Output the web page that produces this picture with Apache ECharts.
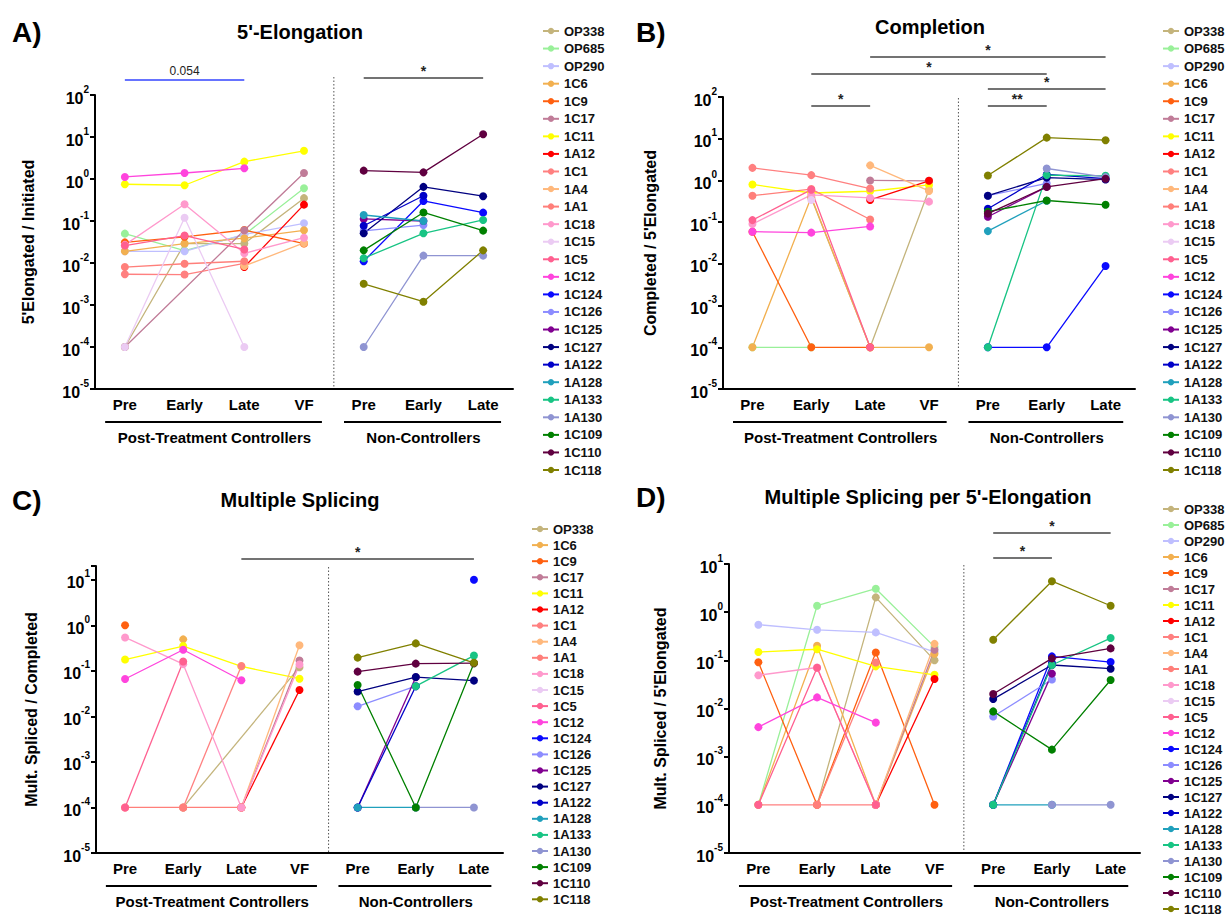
<!DOCTYPE html>
<html><head><meta charset="utf-8">
<script src="https://cdn.jsdelivr.net/npm/echarts@6/dist/echarts.min.js"></script>
<style>html,body{margin:0;padding:0;background:#fff}#c{width:1231px;height:914px}</style>
</head><body><div id="c"></div>
<script>
// ---------- DATA ----------
const tickLabels = ['Pre','Early','Late','VF','Pre','Early','Late'];
const ptcNames = ['OP338','OP685','OP290','1C6','1C9','1C17','1C11','1A12','1C1','1A4','1A1','1C18','1C15','1C5','1C12'];
const ncNames  = ['1C124','1C126','1C125','1C127','1A122','1A128','1A133','1A130','1C109','1C110','1C118'];

// Panel A: 5'-Elongation (Pre, Early, Late, VF)
const elongPTC = [
  [1e-4, 0.029, 0.029, 0.35],
  [0.050, 0.0197, 0.047, 0.6],
  [0.019, 0.019, 0.048, 0.088],
  [0.019, 0.029, 0.039, 0.06],
  [0.031, 0.042, 0.061, 0.029],
  [1e-4, null, 0.06, 1.39],
  [0.75, 0.71, 2.59, 4.7],
  [null, null, 0.008, 0.245],
  [0.0054, 0.0053, 0.0098, null],
  [null, null, 0.0085, 0.030],
  [0.008, 0.0096, 0.011, null],
  [0.027, 0.25, 0.017, 0.040],
  [1e-4, 0.12, 1e-4, null],
  [0.026, 0.045, 0.021, null],
  [1.12, 1.39, 1.8, null]
];
const elongNC = [
  [0.011, 0.30, 0.158],
  [0.058, 0.080, null],
  [0.112, 0.10, null],
  [0.051, 0.65, 0.39],
  [0.077, 0.40, null],
  [0.139, 0.10, null],
  [0.013, 0.051, 0.106],
  [1e-4, 0.015, 0.015],
  [0.020, 0.16, 0.059],
  [1.58, 1.44, 11.6],
  [0.0032, 0.0012, 0.020]
];
// Panel B: Completion
const complPTC = [
  [null, 0.38, 1e-4, 0.6],
  [1e-4, 1e-4, null, null],
  [null, null, null, null],
  [1e-4, 0.4, 1e-4, 1e-4],
  [0.059, 1e-4, 1e-4, null],
  [null, null, 1.0, 0.98],
  [0.80, 0.50, 0.55, 0.78],
  [null, null, 0.34, 0.98],
  [2.0, 1.34, 0.64, null],
  [null, null, 2.3, 0.56],
  [0.43, 0.62, 0.116, null],
  [0.09, 0.45, 0.38, 0.31],
  [null, 0.34, null, null],
  [0.112, 0.6, 1e-4, null],
  [0.059, 0.056, 0.079, null]
];
const complNC = [
  [1e-4, 1e-4, 0.0089],
  [0.43, 0.85, null],
  [0.135, 0.7, null],
  [0.43, 1.17, 1.05],
  [0.21, 1.39, 1.1],
  [0.061, 0.325, null],
  [1e-4, 1.34, 1.29],
  [null, 1.93, 1.2],
  [0.178, 0.33, 0.26],
  [0.16, 0.70, 1.1],
  [1.31, 10.6, 9.2]
];
// Panel C: Multiple Splicing
const splicPTC = [
  [null, 1e-4, null, 0.12],
  [null, null, null, null],
  [null, null, null, null],
  [null, 0.49, null, null],
  [1.0, null, null, null],
  [null, null, 1e-4, 0.168],
  [0.177, 0.35, 0.125, 0.067],
  [null, null, 1e-4, 0.038],
  [null, 1e-4, 0.128, null],
  [null, null, 1e-4, 0.365],
  [1e-4, 1e-4, 1e-4, null],
  [0.54, 0.14, 1e-4, 0.137],
  [null, null, null, null],
  [1e-4, 0.16, null, null],
  [0.066, 0.29, 0.062, null]
];
const splicNC = [
  [null, null, 10],
  [0.0166, 0.046, null],
  [1e-4, 0.072, null],
  [0.035, 0.073, 0.061],
  [1e-4, 0.046, null],
  [1e-4, 1e-4, null],
  [null, 0.046, 0.216],
  [null, 1e-4, 1e-4],
  [0.049, 1e-4, 0.147],
  [0.096, 0.144, 0.147],
  [0.195, 0.40, 0.15]
];
// Panel D: Multiple Splicing per 5'-Elongation
const perElPTC = [
  [null, 1e-4, 2.03, 0.1],
  [1e-4, 1.36, 3.07, 0.19],
  [0.55, 0.43, 0.38, 0.15],
  [1e-4, 0.20, 1e-4, 0.137],
  [0.091, 1e-4, 0.146, 1e-4],
  [null, null, 1e-4, 0.166],
  [0.149, 0.17, 0.075, 0.050],
  [null, null, 1e-4, 0.041],
  [1e-4, 1e-4, 1e-4, null],
  [null, null, 1e-4, 0.22],
  [null, 1e-4, 0.09, null],
  [0.049, 0.071, 1e-4, null],
  [null, null, null, null],
  [1e-4, 0.07, 1e-4, null],
  [0.0041, 0.017, 0.0051, null]
];
const perElNC = [
  [1e-4, 0.121, 0.092],
  [0.0068, 0.040, null],
  [1e-4, 0.053, null],
  [0.0157, 0.08, 0.067],
  [1e-4, 0.088, null],
  [1e-4, 1e-4, null],
  [1e-4, 0.08, 0.29],
  [null, 1e-4, 1e-4],
  [0.0087, 0.0014, 0.039],
  [0.020, 0.11, 0.177],
  [0.268, 4.4, 1.36]
];
const titles = ["5'-Elongation", 'Completion', 'Multiple Splicing', "Multiple Splicing per 5'-Elongation"];
const letters = ['A)', 'B)', 'C)', 'D)'];
const yNames = ["5'Elongated / Initiated", "Completed / 5'Elongated", 'Mult. Spliced / Completed', "Mult. Spliced / 5'Elongated"];
const groupNames = ['Post-Treatment Controllers', 'Non-Controllers'];
const legendExclude = [[], [], ['OP685', 'OP290'], []];
// significance brackets: [panel, fromCat, toCat, label]
const brackets = [
  [0, 0, 2, '0.054'], [0, 4, 6, '*'],
  [1, 2, 6, '*'], [1, 1, 5, '*'], [1, 4, 6, '*'], [1, 1, 2, '*'], [1, 4, 5, '**'],
  [2, 2, 6, '*'],
  [3, 4, 6, '*'], [3, 4, 5, '*']
];

// ---------- STYLE / LAYOUT ----------
const colors = {
  OP338:'#C4B47C', OP685:'#99F099', OP290:'#BFBFFF', '1C6':'#F2B050', '1C9':'#FF6010',
  '1C17':'#C07C98', '1C11':'#FFFF00', '1A12':'#FF0000', '1C1':'#FF8080', '1A4':'#FFB87C',
  '1A1':'#FF7F7A', '1C18':'#FF99CC', '1C15':'#EBCBF3', '1C5':'#FF6090', '1C12':'#FF44DD',
  '1C124':'#0A0AFF', '1C126':'#8C8CFF', '1C125':'#800090', '1C127':'#000080', '1A122':'#0000C8',
  '1A128':'#20A0BC', '1A133':'#18C484', '1A130':'#8F94D2', '1C109':'#008000', '1C110':'#600040', '1C118':'#808000'
};
const F = 'Liberation Sans, Arial, Helvetica, sans-serif';
const grids = [
  {left:95, top:95, width:418, height:294},
  {left:723, top:97, width:412, height:292},
  {left:96, top:566, width:407, height:287},
  {left:729, top:564, width:411, height:289}
];
const yMax = [100, 100, 20, 10];
const nameGaps = [59, 65, 57, 61];
const legendPos = [
  {left:537, top:19.5, itemGap:4.56},
  {left:1157, top:19.5, itemGap:4.56},
  {left:526, top:517.5, itemGap:3.1},
  {left:1157, top:497.5, itemGap:3.0}
];
const titlePos = [[300, 32], [930, 27], [300, 500], [928, 497]];
const letterPos = [[12, 32], [636, 32], [12, 500], [636, 497]];
const bracketY = {
  '0-0-2': 80, '0-4-6': 78,
  '1-2-6': 57, '1-1-5': 74, '1-4-6': 89, '1-1-2': 106, '1-4-5': 106,
  '2-2-6': 559, '3-4-6': 533, '3-4-5': 558
};

const panels = [[elongPTC, elongNC], [complPTC, complNC], [splicPTC, splicNC], [perElPTC, perElNC]];
const allNames = ptcNames.concat(ncNames);

const chart = echarts.init(document.getElementById('c'), null, {renderer: 'svg'});

const series = [];
panels.forEach(([ptc, nc], p) => {
  ptcNames.forEach((n, i) => {
    const d = ptc[i].concat([null, null, null]);
    if (d.every(v => v == null)) return;
    series.push(mk(n, p, d));
  });
  ncNames.forEach((n, i) => {
    const d = [null, null, null, null].concat(nc[i]);
    series.push(mk(n, p, d));
  });
});
function mk(name, p, data) {
  const c = colors[name];
  return {
    type: 'line', name, xAxisIndex: p, yAxisIndex: p, data, connectNulls: true,
    symbol: 'circle', symbolSize: 8, showSymbol: true,
    lineStyle: {width: 1.3, color: c}, itemStyle: {color: c},
    emphasis: {disabled: true}, silent: true, animation: false, z: 3
  };
}

const xAxes = grids.map((g, p) => ({
  type: 'category', gridIndex: p, data: tickLabels.map((t, i) => String(i)),
  boundaryGap: true,
  axisLine: {lineStyle: {color: '#000', width: 2}},
  axisTick: {alignWithLabel: true, length: 5, lineStyle: {color: '#000', width: 2}},
  axisLabel: {formatter: (v, i) => tickLabels[i], interval: 0, fontFamily: F, fontWeight: 'bold', fontSize: 15, color: '#000', margin: 8},
  splitLine: {show: false}
}));
const yAxes = grids.map((g, p) => ({
  type: 'log', gridIndex: p, min: 1e-5, max: yMax[p], logBase: 10,
  name: yNames[p], nameLocation: 'middle', nameGap: nameGaps[p],
  nameTextStyle: {fontFamily: F, fontWeight: 'bold', fontSize: 16, color: '#000'},
  axisLine: {show: true, lineStyle: {color: '#000', width: 2}},
  axisTick: {show: true, length: 5, lineStyle: {color: '#000', width: 2}},
  splitLine: {show: false},
  axisLabel: {
    margin: 6,
    formatter: v => {
      const e = Math.log10(v);
      const r = Math.round(e);
      if (Math.abs(e - r) > 1e-6) return '';
      return '{b|10}{s|' + r + '}';
    },
    rich: {
      b: {fontFamily: F, fontWeight: 'bold', fontSize: 16, color: '#000', verticalAlign: 'bottom', lineHeight: 22},
      s: {fontFamily: F, fontWeight: 'bold', fontSize: 10, color: '#000', verticalAlign: 'top', lineHeight: 10}
    }
  }
}));
const legends = legendPos.map((lp, p) => ({
  orient: 'vertical', left: lp.left, top: lp.top, height: 600, itemGap: lp.itemGap,
  itemWidth: 16, itemHeight: 8, selectedMode: false,
  textStyle: {fontFamily: F, fontWeight: 'bold', fontSize: 13, color: '#111'},
  data: allNames.filter(n => legendExclude[p].indexOf(n) < 0)
}));

chart.setOption({
  backgroundColor: '#fff',
  animation: false,
  grid: grids.map(g => Object.assign({containLabel: false}, g)),
  xAxis: xAxes, yAxis: yAxes, legend: legends, series
});

// ---------- annotations (positions derived from the axes) ----------
const gfx = [];
function cx(p, i) { return chart.convertToPixel({xAxisIndex: p}, i); }
function txt(x, y, text, size, weight, align, color) {
  gfx.push({type: 'text', x, y, silent: true, style: {text, fontFamily: F, fontSize: size, fontWeight: weight || 'bold', fill: color || '#000', align: align || 'center', verticalAlign: 'middle'}});
}
function ln(x1, y1, x2, y2, stroke, w, dash) {
  gfx.push({type: 'line', silent: true, shape: {x1, y1, x2, y2}, style: {stroke, lineWidth: w, lineDash: dash || null}});
}
grids.forEach((g, p) => {
  const sepX = (cx(p, 3) + cx(p, 4)) / 2;
  const topY = p === 0 ? 77 : g.top + 1;
  ln(sepX, topY, sepX, g.top + g.height, '#555', 1, [1.5, 2]);
  const bottom = g.top + g.height;
  const band = cx(p, 1) - cx(p, 0);
  const lineY = bottom + 33;
  ln(cx(p, 0) - band * 0.33, lineY, cx(p, 3) + band * 0.3, lineY, '#000', 2);
  ln(cx(p, 4) - band * 0.33, lineY, cx(p, 6) + band * 0.3, lineY, '#000', 2);
  txt((cx(p, 0) + cx(p, 3)) / 2, lineY + 15, groupNames[0], 15);
  txt((cx(p, 4) + cx(p, 6)) / 2, lineY + 15, groupNames[1], 15);
  txt(titlePos[p][0], titlePos[p][1], titles[p], 20);
  txt(letterPos[p][0], letterPos[p][1], letters[p], 28, 'bold', 'left');
});
brackets.forEach(([p, a, b, lab]) => {
  const y = bracketY[p + '-' + a + '-' + b];
  const x1 = cx(p, a), x2 = cx(p, b);
  if (lab === '0.054') {
    ln(x1, y, x2, y, '#3344ff', 1.5);
    txt((x1 + x2) / 2, y - 9, lab, 12, 'normal', 'center', '#222');
  } else {
    ln(x1, y, x2, y, '#444', 1.5);
    txt((x1 + x2) / 2, y - 7, lab, 14, 'bold', 'center', '#222');
  }
});
chart.setOption({graphic: gfx});
</script></body></html>
